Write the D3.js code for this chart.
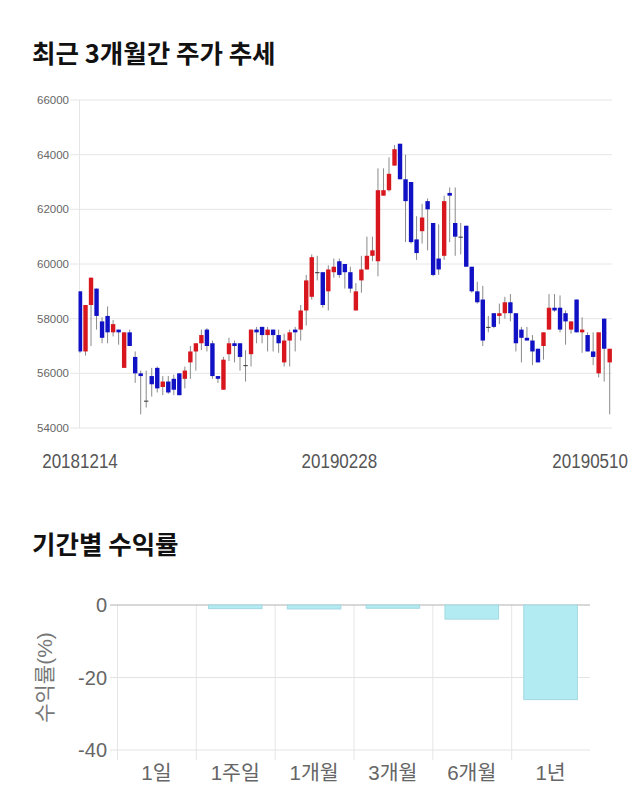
<!DOCTYPE html>
<html>
<head>
<meta charset="utf-8">
<script src="https://cdn.jsdelivr.net/npm/d3@7"></script>
<style>
  html, body { margin: 0; padding: 0; background: #fff; }
  svg { display: block; }
</style>
</head>
<body>
<svg id="chart" width="640" height="810"></svg>
<script>
// ---------- Data: candlestick (20181214 ~ 20190510, 97 trading days) ----------
const openPrices = [
  59000,56800,58500,59100,57900,58100,57500,57600,56200,57500,
  56600,56000,55000,55900,56200,55500,55700,55800,56000,55800,
  56400,56800,57100,57600,57100,55900,55400,56700,57100,57100,
  56300,56700,57600,57700,57400,57600,57400,56400,57200,57600,
  57600,58300,58800,59700,59700,59000,59700,60100,60000,59700,
  58300,59400,59800,60300,60100,62500,62700,63600,64400,63100,
  63000,60900,61200,62300,61500,60200,60300,62600,61500,61000,
  61400,59900,59000,58700,57700,58200,58100,58200,58600,58200,
  57600,57300,57200,56900,57000,57600,58400,58400,58200,57600,
  58700,57500,57400,56800,56000,58000,56400
];
const highPrices = [
  59000,58500,59500,59100,58050,58450,57950,57600,57500,57600,
  56800,56100,56100,56200,56250,55900,55900,55950,56000,56250,
  57000,57100,57600,57650,57200,55900,56600,57300,57200,57100,
  56850,57600,57700,57700,57700,57600,57600,57450,57600,57700,
  58500,59600,60350,60300,59700,59950,60200,60200,60000,59900,
  59300,60300,61000,61000,63500,63500,63900,64350,64400,64000,
  63000,61750,62200,62400,61500,61450,62500,62800,62800,61500,
  61400,59900,59350,59200,58100,58200,58550,58800,58900,58200,
  57700,57700,57400,56900,57500,58900,58900,58850,58300,57900,
  58700,58050,57500,57500,57500,58000,56900
];
const lowPrices = [
  56750,56650,57000,57600,57100,57100,57350,57050,56200,57000,
  55650,54500,54750,55150,55300,55200,55250,55200,55200,55450,
  55800,56100,56850,56800,55800,55650,55400,56450,56400,56100,
  55700,56250,57100,57100,56800,56800,56750,56250,56250,56800,
  57200,57750,58700,59400,58400,58300,59500,59500,59100,58950,
  58300,58950,59800,60100,59550,62500,62650,63600,63100,60800,
  60750,60150,60750,60500,59550,59600,60150,60800,60300,60350,
  59900,58950,58550,57000,57500,57650,57800,58000,57900,56800,
  56400,57200,56300,56400,56500,57600,58250,57500,57050,57450,
  57500,56750,56800,56300,55850,55700,54500
];
const closePrices = [
  56800,58500,59500,58100,57300,57500,57800,57500,57500,57000,
  56000,55900,55000,55600,55450,55700,55300,55400,55200,56100,
  56800,57100,57400,57000,55900,55800,56500,57100,57000,56600,
  56300,57600,57500,57400,57600,57400,57100,57200,57500,57500,
  58300,59400,60250,59700,58500,59800,59900,59600,59700,59100,
  59000,59800,60300,60500,62700,62700,63300,64200,63100,62300,
  60800,60400,61700,62000,59600,59800,62300,62500,61000,61000,
  59900,59000,58600,57200,57700,57700,58200,58600,58200,57100,
  57300,57200,56800,56400,57500,58400,58300,57600,57900,57900,
  57500,57600,56800,56600,57500,56900,56900
];
const priceTicks = [54000, 56000, 58000, 60000, 62000, 64000, 66000];
const dateTickIndex = [0, 47, 96];
const dateTickLabels = ["20181214", "20190228", "20190510"];

// ---------- Data: period returns ----------
const periods = ["1일", "1주일", "1개월", "3개월", "6개월", "1년"];
const returns = [0, -1.0, -1.1, -0.9, -3.9, -26.1];
const returnTicks = [0, -20, -40];

// ---------- Drawing ----------
const svg = d3.select("#chart");
const KFONT = "'Liberation Sans', 'Noto Sans CJK KR', sans-serif";

// Titles
svg.append("text").attr("x", 32).attr("y", 63)
  .attr("font-family", "'Noto Sans CJK KR', sans-serif").attr("font-weight", 700)
  .attr("font-size", 25.5).attr("fill", "#111").text("최근 3개월간 주가 추세");
svg.append("text").attr("x", 32).attr("y", 554)
  .attr("font-family", "'Noto Sans CJK KR', sans-serif").attr("font-weight", 700)
  .attr("font-size", 25.5).attr("fill", "#111").text("기간별 수익률");

// ----- Candlestick chart -----
const n = openPrices.length;
const cx = d3.scaleLinear().domain([0, n - 1]).range([80, 609.7]);
const cy = d3.scaleLinear().domain([54000, 66000]).range([428, 100]);
const bodyW = 4.4;

const g1 = svg.append("g");
g1.selectAll("line.grid").data(priceTicks).enter().append("line")
  .attr("x1", 70).attr("x2", 612)
  .attr("y1", d => cy(d)).attr("y2", d => cy(d))
  .attr("stroke", "#e6e6e6").attr("stroke-width", 1);
g1.append("line").attr("x1", 79.5).attr("x2", 79.5)
  .attr("y1", cy(66000)).attr("y2", cy(54000))
  .attr("stroke", "#e6e6e6");

g1.selectAll("text.ytick").data(priceTicks).enter().append("text")
  .attr("x", 69).attr("y", d => cy(d)).attr("dy", "0.35em")
  .attr("text-anchor", "end").attr("font-family", "'Liberation Sans', Arial, sans-serif")
  .attr("font-size", 11.5).attr("fill", "#666").text(d => d);

svg.append("defs").append("clipPath").attr("id", "plotclip")
  .append("rect").attr("x", 78.5).attr("y", 90).attr("width", 533.5).attr("height", 350);

const candles = d3.range(n).map(i => ({
  i, o: openPrices[i], h: highPrices[i], l: lowPrices[i], c: closePrices[i]
}));
const cg = g1.append("g").attr("clip-path", "url(#plotclip)");
cg.selectAll("line.wick").data(candles).enter().append("line")
  .attr("x1", d => cx(d.i)).attr("x2", d => cx(d.i))
  .attr("y1", d => cy(d.h)).attr("y2", d => cy(d.l))
  .attr("stroke", "#8a8a8a").attr("stroke-width", 1);
cg.selectAll("rect.body").data(candles).enter().append("rect")
  .attr("x", d => cx(d.i) - bodyW / 2).attr("width", bodyW)
  .attr("y", d => cy(Math.max(d.o, d.c)))
  .attr("height", d => Math.max(1, Math.abs(cy(d.o) - cy(d.c))))
  .attr("fill", d => d.c > d.o ? "#d7161e" : (d.c < d.o ? "#1010c4" : "#333"));

// date labels (condensed look)
const dateScaleX = 0.81;
g1.selectAll("text.xtick").data(dateTickIndex).enter().append("text")
  .attr("font-family", "'Liberation Sans', Arial, sans-serif").attr("font-size", 21)
  .attr("fill", "#555").attr("text-anchor", "middle")
  .text((d, k) => dateTickLabels[k])
  .each(function(d) {
    const w = this.getComputedTextLength() * dateScaleX;
    const pos = Math.min(Math.max(cx(d), 12 + w / 2), 628 - w / 2);
    d3.select(this).attr("transform", `translate(${pos},468) scale(${dateScaleX},1)`);
  });

// ----- Return bar chart -----
const bx = d3.scaleBand().domain(periods).range([117, 590]).padding(0);
const by = d3.scaleLinear().domain([-40, 0]).range([750, 605]);
const g2 = svg.append("g");

g2.selectAll("line.vgrid").data(periods).enter().append("line")
  .attr("x1", d => bx(d) + 0.5).attr("x2", d => bx(d) + 0.5)
  .attr("y1", by(0)).attr("y2", by(-40) + 10)
  .attr("stroke", "#e6e6e6");
g2.selectAll("line.hgrid").data(returnTicks).enter().append("line")
  .attr("x1", 110).attr("x2", 590)
  .attr("y1", d => by(d)).attr("y2", d => by(d))
  .attr("stroke", d => d === 0 ? "#b0b0b0" : "#e3e3e3");

const barW = bx.bandwidth() * 0.68;
g2.selectAll("rect.bar").data(periods.map((p, i) => ({ p, v: returns[i] })).filter(d => d.v !== 0))
  .enter().append("rect")
  .attr("x", d => bx(d.p) + (bx.bandwidth() - barW) / 2)
  .attr("width", barW)
  .attr("y", d => by(0))
  .attr("height", d => by(d.v) - by(0))
  .attr("fill", "#b2ebf2").attr("stroke", "#a3d9e2").attr("stroke-width", 1);

g2.selectAll("text.rytick").data(returnTicks).enter().append("text")
  .attr("x", 107).attr("y", d => by(d)).attr("dy", "0.35em")
  .attr("text-anchor", "end").attr("font-family", KFONT)
  .attr("font-size", 20).attr("fill", "#666").text(d => d);

g2.selectAll("text.rxtick").data(periods).enter().append("text")
  .attr("x", d => bx(d) + bx.bandwidth() / 2).attr("y", 780)
  .attr("text-anchor", "middle").attr("font-family", KFONT)
  .attr("font-size", 20.5).attr("fill", "#666").text(d => d);

svg.append("text")
  .attr("transform", `translate(52, ${(by(0) + by(-40)) / 2}) rotate(-90)`)
  .attr("text-anchor", "middle").attr("font-family", KFONT)
  .attr("font-size", 21).attr("fill", "#777").text("수익률(%)");
</script>
</body>
</html>
